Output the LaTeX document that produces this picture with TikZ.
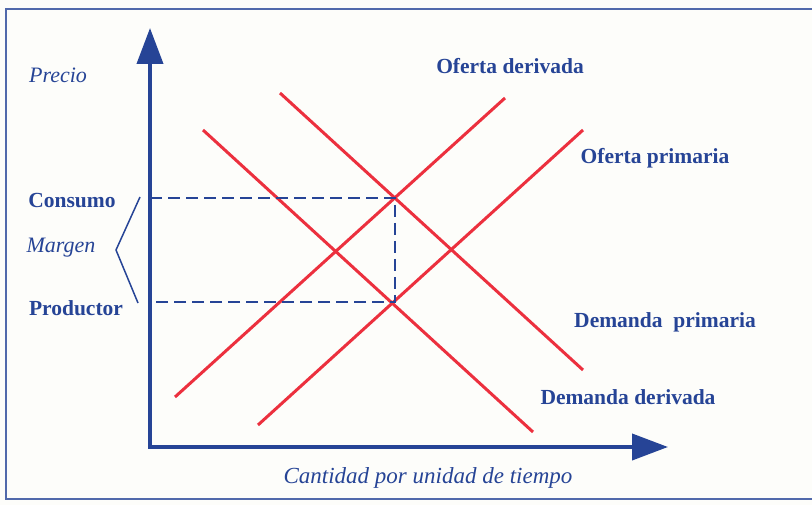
\documentclass[tikz,border=0pt]{standalone}
\usepackage{fontspec}
\setmainfont{Liberation Serif}
\usetikzlibrary{arrows.meta}
\definecolor{tinta}{RGB}{38,68,150}
\definecolor{rojo}{RGB}{236,48,62}
\definecolor{papel}{RGB}{253,253,250}
\tikzset{
  eje/.style={line width=4pt, color=tinta, {Triangle[length=36pt,width=26pt]}-{Triangle[length=36pt,width=26pt]}},
  curva/.style={line width=3pt, color=rojo},
  guia/.style={line width=2pt, color=tinta, dash pattern=on 12pt off 6pt},
  rotulo/.style={text=tinta, font=\fontsize{21.5}{24}\selectfont\bfseries},
  rotuloit/.style={text=tinta, font=\fontsize{22}{24}\selectfont\itshape},
}

\begin{document}
\begin{tikzpicture}[x=1pt,y=-1pt]
		%%%%% START %%%%%
		\useasboundingbox (0,0) rectangle (812,505);
		\fill[papel] (0,0) rectangle (812,505);
		\draw[line width=2pt, color=tinta!80] (812,9) -- (6,9) -- (6,499) -- (812,499);
		
		% ejes
		\draw[eje] (150,28) -- (150,447) -- (668,447);
		
		% curvas
		\draw[curva] (203,130) -- (533,432);
		\draw[curva] (280,93) -- (583,370);
		\draw[curva] (175,397) -- (505,98);
		\draw[curva] (258,425) -- (583,130);
		
		% precios
		\coordinate (ejeC) at (150,198);
		\coordinate (ejeP) at (150,302);
		\coordinate (C) at (395,198);
		\coordinate (P) at (395,302);
		\draw[guia] (ejeC) -- (C) -- (P) -- (ejeP);
		\draw[line width=1.5pt, color=tinta] (140,197) -- (116,250) -- (138,303);
		
		% rotulos
		\node[rotuloit] (precio) at (58,75) {Precio};
		\node[rotulo] (consumo) at (72,201) {Consumo};
		\node[rotuloit] (margen) at (61,248) {Margen};
		\node[rotulo] (productor) at (76,308) {Productor};
		\node[rotulo] (ofd) at (510,66) {Oferta derivada};
		\node[rotulo] (ofp) at (655,158) {Oferta primaria};
		\node[rotulo] (dep) at (665,322) {Demanda\ \ primaria};
		\node[rotulo] (ded) at (628,397) {Demanda derivada};
		\node[rotuloit, font=\fontsize{23}{25}\selectfont\itshape] (cantidad) at (428,478) {Cantidad por unidad de tiempo};
		%%%%% END %%%%%
\end{tikzpicture}
\end{document}
